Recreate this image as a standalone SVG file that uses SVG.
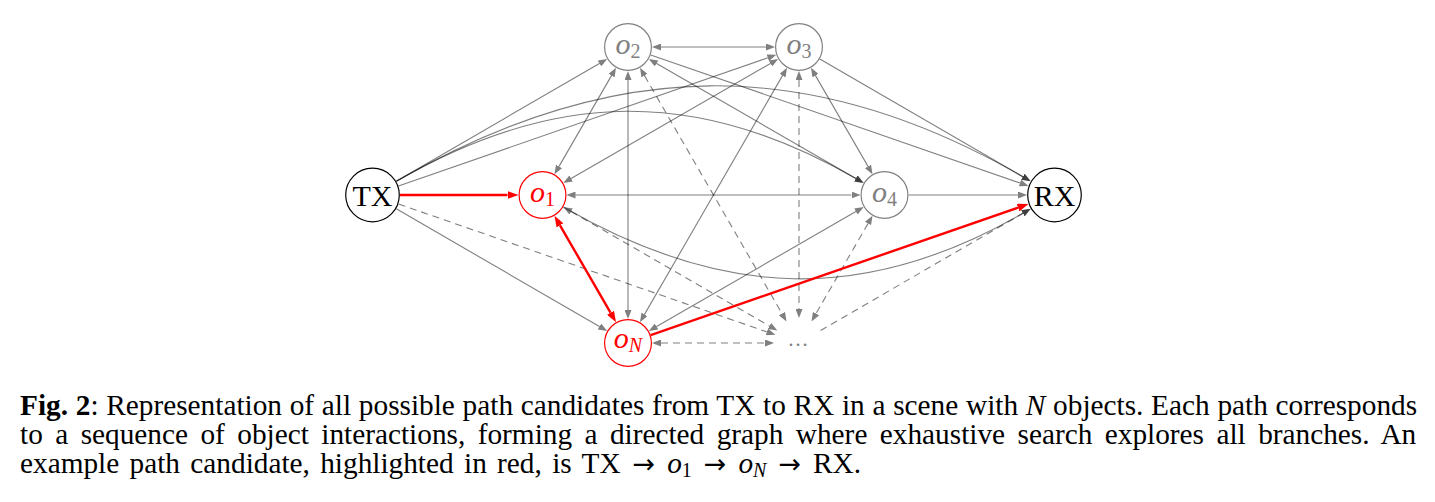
<svg xmlns="http://www.w3.org/2000/svg" width="1435" height="502" viewBox="0 0 1435 502">
<style>
.e{fill:none;stroke:#000;stroke-opacity:.5;stroke-width:1.1}
.d{stroke-dasharray:7 5}
.one{marker-end:url(#ag)}
.two{marker-start:url(#ag);marker-end:url(#ag)}
.r{fill:none;stroke:#f00;stroke-width:2.4}
.r1{marker-end:url(#ar)}
.r2{marker-start:url(#ar);marker-end:url(#ar)}
.nb{fill:#fff;stroke:#000;stroke-width:1.2}
.ng{fill:#fff;stroke:#808080;stroke-width:1.2}
.nr{fill:#fff;stroke:#f00;stroke-width:1.2}
.big{font-family:"Liberation Serif",serif;font-size:30px;text-anchor:middle;fill:#000}
.lab{font-family:"Liberation Serif",serif;font-size:30px;text-anchor:middle}
.it{font-style:italic}
.sub{font-size:20px}
.subi{font-size:20px;font-style:italic}
.g{fill:#808080}
.red{fill:#f00}
.cap{font-family:"Liberation Serif",serif;font-size:29.3px;fill:#000}
.arw{font-family:"DejaVu Sans",sans-serif;font-size:27px}
</style>
<defs>
<marker id="ag" viewBox="0 0 9 7" refX="0" refY="3.5" markerWidth="9" markerHeight="7" markerUnits="userSpaceOnUse" orient="auto-start-reverse"><path d="M0,0 L9,3.5 L0,7 z" fill="#000" fill-opacity="0.5"/></marker>
<marker id="ar" viewBox="0 0 11 8" refX="0" refY="4" markerWidth="11" markerHeight="8" markerUnits="userSpaceOnUse" orient="auto-start-reverse"><path d="M0,0 L11,4 L0,8 z" fill="#f00"/></marker>
</defs>
<rect width="1435" height="502" fill="#fff"/>
<g id="connectors">
<path class="e one" d="M396.3,181.2 L599.4,63.5"/>
<path class="e one" d="M398.5,186.0 L767.8,57.8"/>
<path class="e one" d="M396.3,181.25 C554.8,89.75 697.4,87 855.9,178.5"/>
<path class="e one" d="M396.3,181.25 C611.4,57.05 807.8,52.55 1022.9,176.75"/>
<path class="e one" d="M396.3,208.8 L599.4,326.5"/>
<path class="e two" d="M559.0,166.4 L611.5,75.6"/>
<path class="e two" d="M571.1,178.5 L770.4,63.5"/>
<path class="e two" d="M575.5,195 L851.5,195"/>
<path class="e one" d="M563.3,207 C721.8,298.5 864.4,304.75 1022.9,213.25"/>
<path class="e two" d="M661,47 L766,47"/>
<path class="e two" d="M656.6,63.5 L855.9,178.5"/>
<path class="e two" d="M628,80 L628,310"/>
<path class="e one" d="M650.7,54.9 L1020.0,183.0"/>
<path class="e two" d="M815.5,75.6 L868.0,166.4"/>
<path class="e two" d="M782.5,75.6 L644.5,314.4"/>
<path class="e one" d="M819.8,59.0 L1022.9,176.7"/>
<path class="e two" d="M855.9,211.5 L656.6,326.5"/>
<path class="e one" d="M908.5,195 L1018,195"/>
<path class="e d one" d="M398.5,204.0 L766.9,331.9"/>
<path class="e d two" d="M571.1,211.5 L769.5,326.0"/>
<path class="e d two" d="M644.5,75.6 L782.0,313.6"/>
<path class="e d two" d="M799,80 L799,309"/>
<path class="e d two" d="M868.0,223.6 L816.0,313.6"/>
<path class="e d two" d="M661,343 L765,343"/>
<path class="e d one" d="M820.6,330.5 L1022.9,213.3"/>
<path class="r r1" d="M400,195 L507.5,195"/>
<path class="r r2" d="M560.0,225.3 L610.5,312.7"/>
<path class="r r1" d="M650.7,335.1 L1018.1,207.6"/>
</g>
<g id="TX"><circle class="nb" cx="372.5" cy="195" r="26.8"/><text class="big" x="372.5" y="205.5">TX</text></g>
<g id="RX"><circle class="nb" cx="1054.5" cy="195" r="26.8"/><text class="big" x="1054.5" y="205.5">RX</text></g>
<g id="o1"><circle class="nr" cx="542.5" cy="195" r="23.4"/><text class="lab red" x="542.5" y="201.5"><tspan class="it">o</tspan><tspan class="sub" dy="4.5">1</tspan></text></g>
<g id="o2"><circle class="ng" cx="628" cy="47" r="23.4"/><text class="lab g" x="628" y="53.5"><tspan class="it">o</tspan><tspan class="sub" dy="4.5">2</tspan></text></g>
<g id="o3"><circle class="ng" cx="799" cy="47" r="23.4"/><text class="lab g" x="799" y="53.5"><tspan class="it">o</tspan><tspan class="sub" dy="4.5">3</tspan></text></g>
<g id="o4"><circle class="ng" cx="884.5" cy="195" r="23.4"/><text class="lab g" x="884.5" y="201.5"><tspan class="it">o</tspan><tspan class="sub" dy="4.5">4</tspan></text></g>
<g id="oN"><circle class="nr" cx="628" cy="343" r="23.4"/><text class="lab red" x="628" y="347.5"><tspan class="it">o</tspan><tspan class="subi" dy="4.5">N</tspan></text></g>
<g id="dots"><text x="798" y="346" font-family="Liberation Serif,serif" font-size="21" fill="#808080" text-anchor="middle">…</text></g>
<g id="caption">
<text class="cap" x="20" y="415" word-spacing="0.4"><tspan font-weight="bold">Fig. 2</tspan>: Representation of all possible path candidates from TX to RX in a scene with <tspan class="it">N</tspan> objects. Each path corresponds</text>
<text class="cap" x="20" y="444" word-spacing="5.1">to a sequence of object interactions, forming a directed graph where exhaustive search explores all branches. An</text>
<text class="cap" x="20" y="473" word-spacing="3">example path candidate, highlighted in red, is TX<tspan class="arw" dx="12">→</tspan><tspan class="it" dx="12">o</tspan><tspan font-size="20" dy="4">1</tspan><tspan class="arw" dx="12" dy="-4">→</tspan><tspan class="it" dx="12">o</tspan><tspan class="subi" dy="4">N</tspan><tspan class="arw" dx="12" dy="-4">→</tspan><tspan dx="12">RX.</tspan></text>
</g>
</svg>
